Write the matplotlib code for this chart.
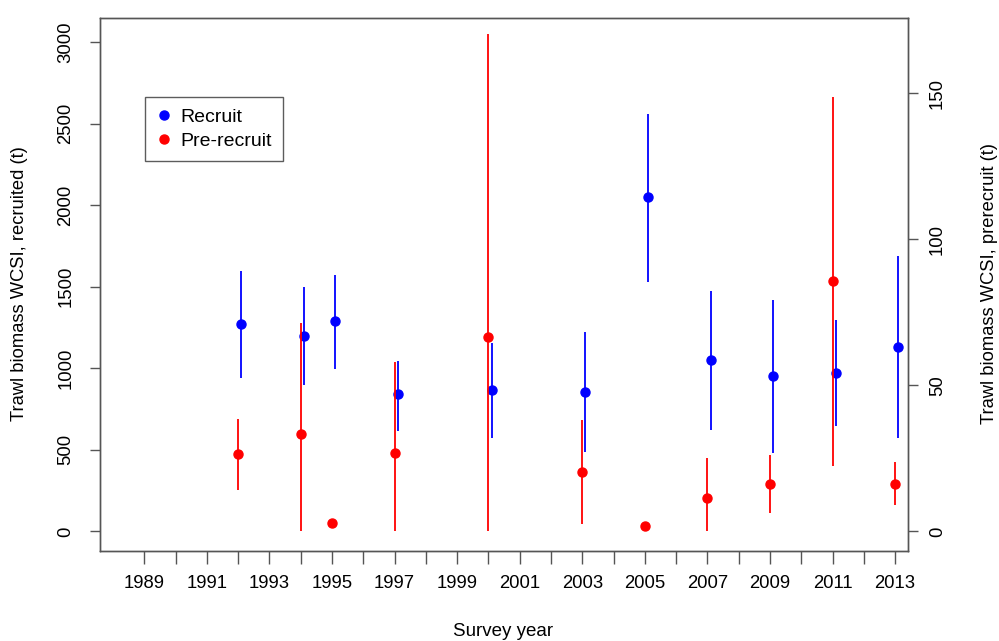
import matplotlib
matplotlib.use("Agg")
import matplotlib.pyplot as plt
from matplotlib.lines import Line2D
import numpy as np

plt.rcParams["font.family"] = ["Liberation Sans", "DejaVu Sans"]

# survey years and trawl biomass estimates with confidence bounds
years = [1992, 1994, 1995, 1997, 2000, 2003, 2005, 2007, 2009, 2011, 2013]
recruit = [1270, 1198, 1288, 840, 865, 853, 2047, 1049, 951, 973, 1133]
recruit_lo = [940, 896, 998, 613, 570, 485, 1530, 620, 483, 646, 573]
recruit_hi = [1597, 1499, 1571, 1043, 1153, 1221, 2558, 1474, 1417, 1299, 1689]

prerecruit = [26.5, 33.2, 2.8, 27.0, 66.4, 20.2, 1.95, 11.4, 16.2, 85.6, 16.3]
prerecruit_lo = [14.3, 0, 2.8, 0, 0, 2.7, 1.95, 0, 6.3, 22.4, 8.9]
prerecruit_hi = [38.6, 71.5, 2.8, 57.9, 170.2, 38.0, 1.95, 25.2, 26.3, 148.6, 23.7]

tick_years = list(range(1989, 2014))
tick_labels = [str(y) if y % 2 else "" for y in tick_years]

W, H = 999, 641
fig = plt.figure(figsize=(W / 100, H / 100), dpi=100)
ax = fig.add_axes([99.5 / W, 1 - 550.5 / H, (908 - 99.5) / W, (550.5 - 18) / H])
ax2 = ax.twinx()

BLUE, RED = "#0000ff", "#ff0000"
xr = np.array(years, dtype=float) + 0.1   # recruit points nudged right
xp = np.array(years, dtype=float)

ax.vlines(xr, recruit_lo, recruit_hi, color=BLUE, lw=1.3)
ax.plot(xr, recruit, "o", color=BLUE, ms=6.5, mec=BLUE)
ax2.vlines(xp, prerecruit_lo, prerecruit_hi, color=RED, lw=1.3)
ax2.plot(xp, prerecruit, "o", color=RED, ms=6.5, mec=RED)

ax.set_xlim(1987.57, 2013.41)
ax.set_ylim(-116.6, 3147)
ax2.set_ylim(-6.51, 175.7)

ax.set_xticks(tick_years)
ax.set_xticklabels(tick_labels)
ax.set_yticks([0, 500, 1000, 1500, 2000, 2500, 3000])
ax2.set_yticks([0, 50, 100, 150])

FS = 13.3
for a in (ax, ax2):
    for s in a.spines.values():
        s.set_color("#555555")
        s.set_linewidth(1.0)
ax.tick_params(axis="x", length=9, width=1, color="#555555", labelsize=FS, pad=9)
ax.tick_params(axis="y", length=7, width=1, color="#555555", labelsize=FS, pad=11)
ax2.tick_params(axis="y", length=7, width=1, color="#555555", labelsize=FS, pad=8)
for lab in ax.get_yticklabels():
    lab.set_rotation(90)
    lab.set_va("center")
for lab in ax2.get_yticklabels():
    lab.set_rotation(90)
    lab.set_va("center")

fig.text(20 / W, 1 - 284 / H, "Trawl biomass WCSI, recruited (t)", rotation=90,
         ha="center", va="center", fontsize=13.2)
fig.text(990 / W, 1 - 284 / H, "Trawl biomass WCSI, prerecruit (t)", rotation=90,
         ha="center", va="center", fontsize=13.2)
fig.text(503 / W, 1 - 631 / H, "Survey year", ha="center", va="center", fontsize=13.5)

handles = [Line2D([], [], ls="none", marker="o", color=BLUE, ms=6.5),
           Line2D([], [], ls="none", marker="o", color=RED, ms=6.5)]
leg = ax.legend(handles, ["Recruit", "Pre-recruit"], loc="upper left",
                bbox_to_anchor=(145 / W, 1 - 97 / H), bbox_transform=fig.transFigure,
                fontsize=14, frameon=True, fancybox=False, borderaxespad=0,
                handlelength=0.8, handletextpad=0.4, borderpad=0.6, labelspacing=0.3)
leg.get_frame().set_edgecolor("#333333")
leg.get_frame().set_linewidth(1.0)

fig.savefig("out.png", dpi=100)
